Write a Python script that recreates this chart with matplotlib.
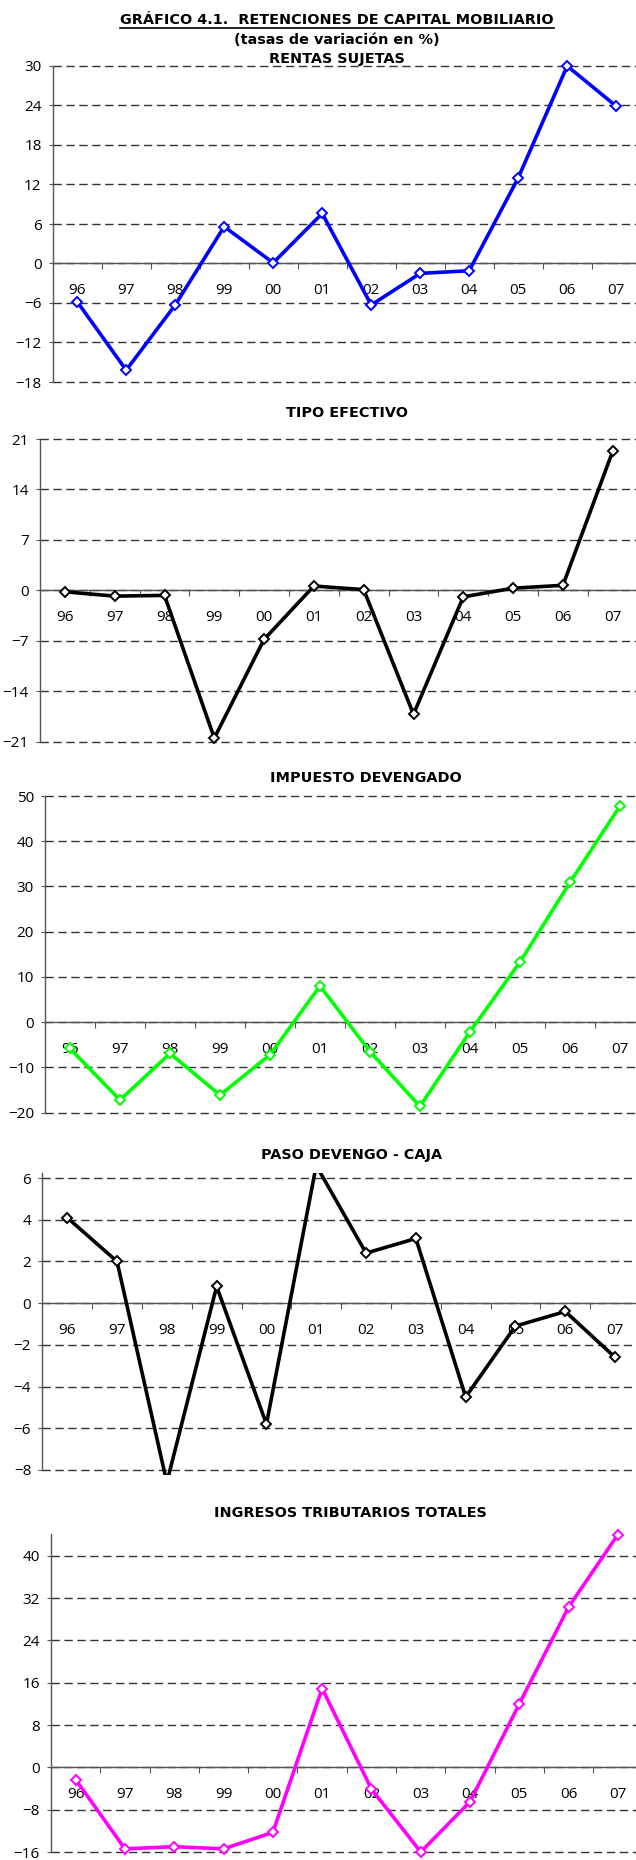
import matplotlib.pyplot as plt
from matplotlib.lines import Line2D
import numpy as np

# data (tasas de variacion en %)
years = ['96', '97', '98', '99', '00', '01', '02', '03', '04', '05', '06', '07']
rentas_sujetas = [-5.8, -16.2, -6.3, 5.6, 0.1, 7.6, -6.3, -1.5, -1.1, 13.0, 30.0, 23.9]
tipo_efectivo = [-0.2, -0.8, -0.7, -20.5, -6.8, 0.6, 0.1, -17.2, -0.9, 0.3, 0.7, 19.3]
impuesto_devengado = [-5.8, -17.2, -6.9, -16.1, -7.2, 8.0, -6.5, -18.6, -2.1, 13.3, 30.9, 47.8]
paso_devengo_caja = [4.1, 2.0, -8.6, 0.8, -5.8, 6.6, 2.4, 3.1, -4.5, -1.1, -0.4, -2.6]
ingresos_totales = [-2.3, -15.4, -15.0, -15.4, -12.3, 14.9, -4.1, -16.0, -6.5, 12.0, 30.3, 44.0]

W, H = 636, 1860
fig = plt.figure(figsize=(W / 100, H / 100), dpi=100)
tick_font = ['Open Sans', 'DejaVu Sans']
axis_grey = '#555555'


def px_axes(left, top, right, bottom):
    return fig.add_axes([left / W, 1 - bottom / H, (right - left) / W, (bottom - top) / H])


def title(x, y, s):
    return fig.text(x / W, 1 - y / H, s, ha='center', va='center', fontsize=10.4,
                    fontweight='bold', family='DejaVu Sans')


def draw_panel(values, color, rect, ylim, yticks, clip=False):
    ax = px_axes(*rect)
    x = np.arange(len(years))
    ax.plot(x, values, color=color, lw=2.6, marker='D', ms=5.5, mfc='white',
            mec=color, mew=1.4, clip_on=clip, zorder=5)
    ax.set_xlim(-0.5, len(years) - 0.5)
    ax.set_ylim(*ylim)
    ax.set_yticks(yticks)
    ax.yaxis.grid(True, color='#333333', lw=1, ls=(0, (6, 3.3)))
    for gl in ax.get_ygridlines():
        gl.set_clip_on(False)
    ax.set_axisbelow(True)
    ax.spines['top'].set_visible(False)
    ax.spines['right'].set_visible(False)
    ax.spines['bottom'].set_position(('data', 0))
    for s in ['bottom', 'left']:
        ax.spines[s].set_color(axis_grey)
        ax.spines[s].set_linewidth(1)
    # tick marks between categories, labels centred on categories
    ax.set_xticks(np.arange(0.5, len(years) - 1, 1))
    ax.set_xticklabels([])
    ax.tick_params(axis='x', which='major', direction='out', length=4, color=axis_grey)
    ax.set_xticks(x, minor=True)
    ax.set_xticklabels(years, minor=True, family=tick_font)
    ax.tick_params(axis='x', which='minor', length=0, pad=14, labelsize=11)
    ax.tick_params(axis='y', length=3, color=axis_grey, pad=5, labelsize=11)
    for lab in ax.get_yticklabels():
        lab.set_family(tick_font)
    return ax


draw_panel(rentas_sujetas, '#0000FF', (52.7, 66, 640.7, 382), (-18, 30), np.arange(-18, 31, 6))
draw_panel(tipo_efectivo, '#000000', (40, 439, 637.6, 741.7), (-21, 21), np.arange(-21, 22, 7))
draw_panel(impuesto_devengado, '#00FF00', (45, 796, 645, 1112.7), (-20, 50), np.arange(-20, 51, 10))
ax4 = draw_panel(paso_devengo_caja, '#000000', (42.3, 1172.8, 640, 1475.2), (-8.25, 6.25),
                 np.arange(-8, 7, 2), clip=True)
ax4.spines['left'].set_bounds(-8, 6.25)
draw_panel(ingresos_totales, '#FF00FF', (51, 1534, 642.6, 1852), (-16, 44.1), np.arange(-16, 41, 8))

main = title(337, 19.7, 'GRÁFICO 4.1.  RETENCIONES DE CAPITAL MOBILIARIO')
title(337, 40, '(tasas de variación en %)')
title(337, 59, 'RENTAS SUJETAS')
title(347, 413, 'TIPO EFECTIVO')
title(366, 778, 'IMPUESTO DEVENGADO')
title(352, 1155, 'PASO DEVENGO - CAJA')
title(350, 1513, 'INGRESOS TRIBUTARIOS TOTALES')

# underline the main title
fig.canvas.draw()
bb = main.get_window_extent()
fig.add_artist(Line2D([bb.x0 / W, bb.x1 / W], [(bb.y0 - 1) / H, (bb.y0 - 1) / H],
                      transform=fig.transFigure, color='black', lw=1.2))

fig.savefig('out.png', dpi=100)
